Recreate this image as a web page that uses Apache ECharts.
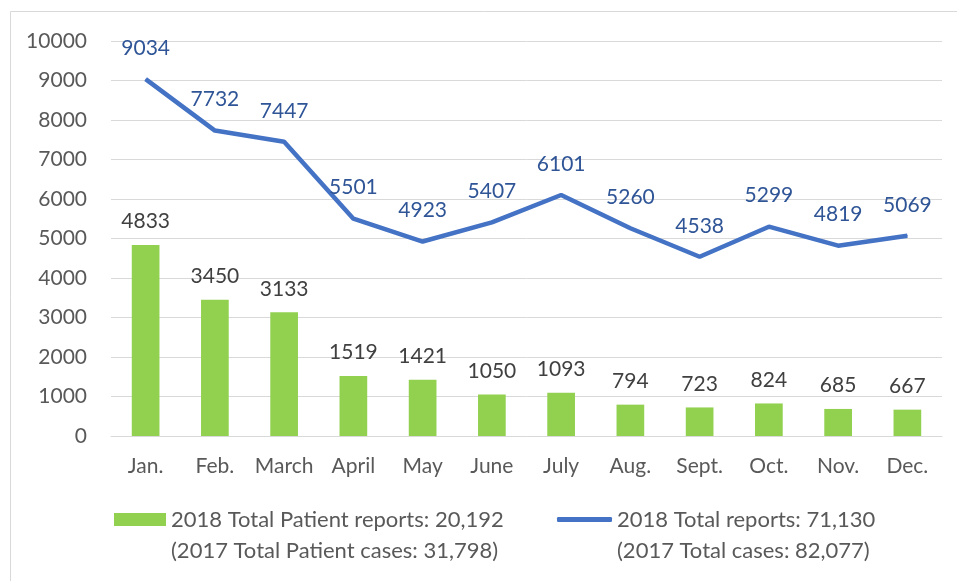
<!DOCTYPE html>
<html lang="en">

<head>
    <meta charset="UTF-8">
    <title>2018 Reports by Month</title>
    <style>
        html,
        body,
        #main {
            width: 100%;
            height: 100%;
            margin: 0;
            padding: 0;
            background-color: #ffffff;
        }
    </style>
    <script src="https://cdn.jsdelivr.net/npm/echarts@6/dist/echarts.min.js"></script>
</head>

<body>
    <div id="main"></div>
    <script>
        // Data
        const months = ['Jan.', 'Feb.', 'March', 'April', 'May', 'June', 'July', 'Aug.', 'Sept.', 'Oct.', 'Nov.', 'Dec.'];
        const patientReports = [4833, 3450, 3133, 1519, 1421, 1050, 1093, 794, 723, 824, 685, 667];
        const totalReports = [9034, 7732, 7447, 5501, 4923, 5407, 6101, 5260, 4538, 5299, 4819, 5069];
        const barName = '2018 Total Patient reports: 20,192\n(2017 Total Patient cases: 31,798)';
        const lineName = '2018 Total reports: 71,130\n(2017 Total cases: 82,077)';

        const FONT = 'Lato';
        var chart = echarts.init(document.getElementById('main'));

        const legendText = {
            fontFamily: FONT,
            fontSize: 22,
            color: '#595959',
            lineHeight: 31
        };
        // a blank first line puts the first real line level with the icon
        const legendFormatter = function (name) {
            return ' \n' + name;
        };

        var option = {
            animation: false,
            textStyle: { fontFamily: FONT },
            graphic: [{
                type: 'rect',
                shape: { x: 10.5, y: 11.5, width: 1000, height: 700 },
                style: { fill: 'none', stroke: '#d9d9d9', lineWidth: 1 },
                silent: true
            }],
            grid: { left: 111, right: 15, top: 41, bottom: 145 },
            legend: [{
                data: [barName],
                left: 114,
                top: 473,
                padding: 0,
                icon: 'rect',
                itemWidth: 52,
                itemHeight: 13,
                formatter: legendFormatter,
                textStyle: legendText
            }, {
                data: [lineName],
                left: 557,
                top: 473,
                padding: 0,
                icon: 'roundRect',
                itemWidth: 55,
                itemHeight: 5,
                formatter: legendFormatter,
                textStyle: legendText
            }],
            xAxis: {
                type: 'category',
                data: months,
                axisLine: { lineStyle: { color: '#d9d9d9', width: 1 } },
                axisTick: { show: false },
                axisLabel: { color: '#595959', fontSize: 21, margin: 20, interval: 0 }
            },
            yAxis: {
                type: 'value',
                min: 0,
                max: 10000,
                interval: 1000,
                axisLine: { show: false },
                axisTick: { show: false },
                splitLine: { lineStyle: { color: '#d9d9d9', width: 1 } },
                axisLabel: {
                    color: '#595959',
                    fontSize: 21,
                    margin: 24,
                    formatter: function (v) { return String(v); }
                }
            },
            series: [{
                name: barName,
                type: 'bar',
                data: patientReports,
                barWidth: '40%',
                itemStyle: { color: '#92d050' },
                label: {
                    show: true,
                    position: 'top',
                    distance: 13,
                    color: '#404040',
                    fontSize: 21
                }
            }, {
                name: lineName,
                type: 'line',
                data: totalReports,
                symbol: 'circle',
                symbolSize: 1,
                itemStyle: { color: '#4472c4' },
                lineStyle: { color: '#4472c4', width: 4.5 },
                label: {
                    show: true,
                    position: 'top',
                    distance: 20,
                    color: '#2f5597',
                    fontSize: 21
                }
            }]
        };

        chart.setOption(option);
    </script>
</body>

</html>
